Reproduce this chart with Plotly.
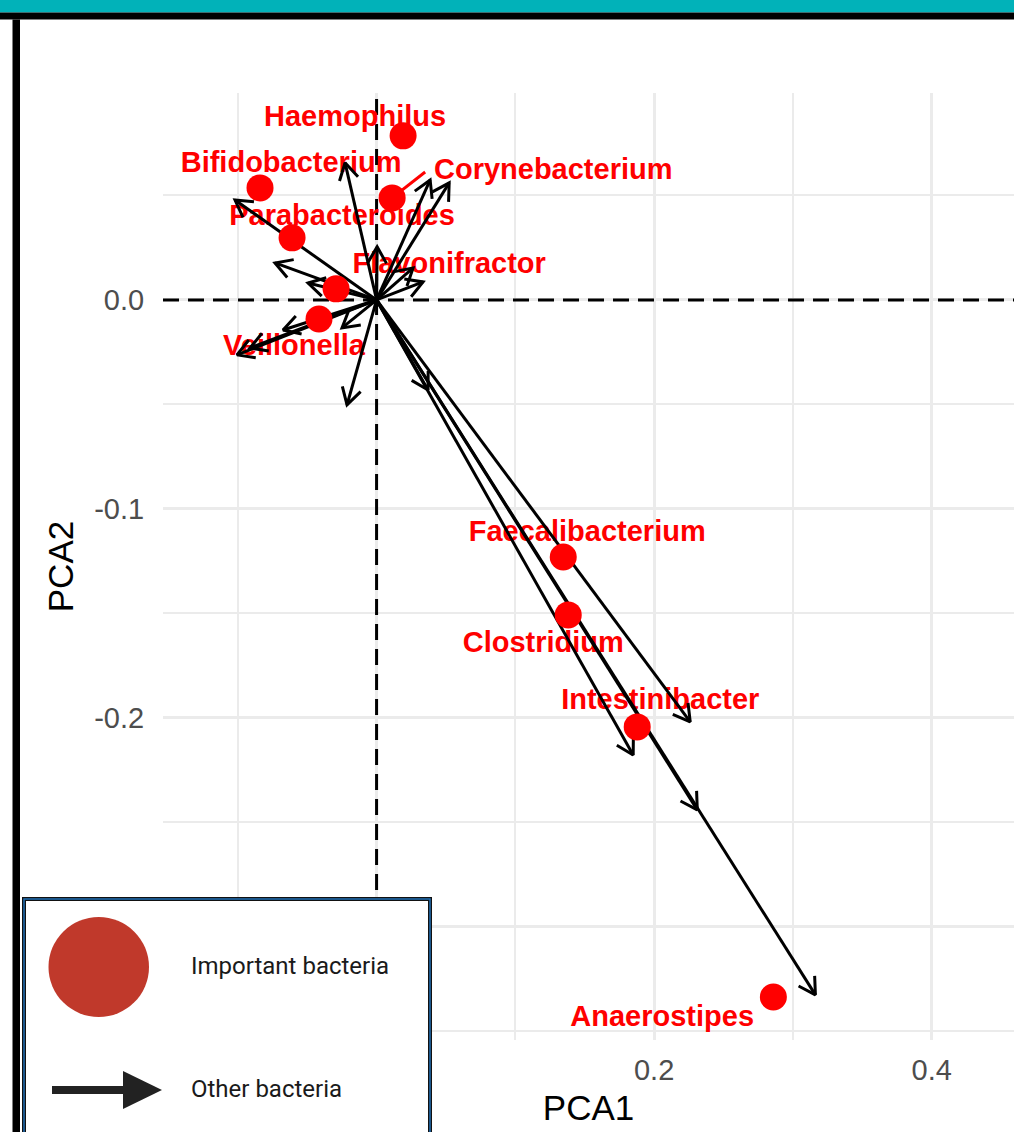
import math
import plotly.graph_objects as go

# ---------------- data ----------------
bacteria = ["Haemophilus", "Bifidobacterium", "Corynebacterium", "Parabacteroides",
            "Flavonifractor", "Veillonella", "Faecalibacterium", "Clostridium",
            "Intestinibacter", "Anaerostipes"]
pca1 = [0.0191, -0.0840, 0.0112, -0.0609, -0.0292, -0.0415, 0.1345, 0.1381, 0.1878, 0.2859]
pca2 = [0.0785, 0.0536, 0.0488, 0.0297, 0.0053, -0.0091, -0.1230, -0.1507, -0.2043, -0.3335]

# repelled label positions (text centres)
label_x = [-0.0155, -0.0616, 0.1273, -0.0249, 0.0523, -0.0595, 0.1518, 0.1201, 0.2044, 0.2058]
label_y = [0.0866, 0.0646, 0.0612, 0.0392, 0.0162, -0.0230, -0.1120, -0.1651, -0.1924, -0.3441]

# connector segment for repelled label
seg_label = ["Corynebacterium"]
seg_end_x = [0.0350]
seg_end_y = [0.0612]

# other bacteria loadings (arrow tips)
arrow_x = [0.3162, 0.2311, 0.2260, 0.1849, 0.0371, -0.0213, -0.0227, 0.0386, 0.0523,
           -0.1020, -0.0732, -0.0494, 0.0004, 0.0335, 0.0263, -0.0674, -0.1006, -0.0912, -0.0249]
arrow_y = [-0.3325, -0.2440, -0.2019, -0.2177, -0.0431, -0.0502, 0.0656, 0.0574, 0.0560,
           0.0478, 0.0177, 0.0081, 0.0254, 0.0086, 0.0153, -0.0144, -0.0263, -0.0230, -0.0134]

x_tick_vals = [0.0, 0.2, 0.4]
x_tick_text = ["0.0", "0.2", "0.4"]
y_tick_vals = [0.0, -0.1, -0.2, -0.3]
y_tick_text = ["0.0", "-0.1", "-0.2", "-0.3"]

legend_labels = ["Important bacteria", "Other bacteria"]

# ---------------- layout geometry ----------------
W, H = 1014, 1132
ML, MR, MT, MB = 163, 0, 93, 92
PW, PH = W - ML - MR, H - MT - MB
X_RANGE = [-0.1539, 0.4593]
Y_RANGE = [-0.3541, 0.0990]
sx = PW / (X_RANGE[1] - X_RANGE[0])
sy = PH / (Y_RANGE[1] - Y_RANGE[0])


def px_x(p):
    return (p - ML) / PW


def px_y(p):
    return 1 - (p - MT) / PH


fig = go.Figure()

# dashed reference lines
fig.add_trace(go.Scatter(x=[X_RANGE[0], X_RANGE[1]], y=[0, 0], mode="lines",
                         line=dict(color="black", width=3, dash="16px,9px"),
                         hoverinfo="skip", showlegend=False, cliponaxis=True))
fig.add_trace(go.Scatter(x=[0, 0], y=[Y_RANGE[0], Y_RANGE[1]], mode="lines",
                         line=dict(color="black", width=3, dash="16px,9px"),
                         hoverinfo="skip", showlegend=False, cliponaxis=True))

# connector segments
for name, ex, ey in zip(seg_label, seg_end_x, seg_end_y):
    i = bacteria.index(name)
    fig.add_trace(go.Scatter(x=[pca1[i], ex], y=[pca2[i], ey], mode="lines",
                             line=dict(color="#FF0000", width=3),
                             hoverinfo="skip", showlegend=False))

# labels
fig.add_trace(go.Scatter(x=label_x, y=label_y, mode="text", text=bacteria,
                         textposition="middle center",
                         textfont=dict(family="Liberation Sans, Arial", size=29,
                                       color="#FF0000", weight="bold"),
                         hoverinfo="skip", showlegend=False, cliponaxis=False))

# arrows
L = 19.0
ang = math.radians(30)
ax_, ay_ = [], []
for tx, ty in zip(arrow_x, arrow_y):
    dpx, dpy = tx * sx, -ty * sy
    n = math.hypot(dpx, dpy)
    bx, by = -dpx / n, -dpy / n
    pts = []
    for s in (1, -1):
        rx = bx * math.cos(s * ang) - by * math.sin(s * ang)
        ry = bx * math.sin(s * ang) + by * math.cos(s * ang)
        pts.append((tx + L * rx / sx, ty - L * ry / sy))
    ax_ += [0, tx, None, pts[0][0], tx, pts[1][0], None]
    ay_ += [0, ty, None, pts[0][1], ty, pts[1][1], None]
fig.add_trace(go.Scatter(x=ax_, y=ay_, mode="lines",
                         line=dict(color="black", width=3),
                         hoverinfo="skip", showlegend=False))

# important bacteria points
fig.add_trace(go.Scatter(x=pca1, y=pca2, mode="markers",
                         marker=dict(color="#FF0000", size=27, line=dict(width=0)),
                         hoverinfo="skip", showlegend=False))

shapes = []
# frame decorations
shapes.append(dict(type="rect", xref="paper", yref="paper", x0=px_x(0), x1=px_x(W),
                   y0=px_y(12.5), y1=px_y(-2), fillcolor="#01B2B9", line=dict(width=0), layer="above"))
shapes.append(dict(type="rect", xref="paper", yref="paper", x0=px_x(0), x1=px_x(W),
                   y0=px_y(19.5), y1=px_y(12.5), fillcolor="black", line=dict(width=0), layer="above"))
shapes.append(dict(type="rect", xref="paper", yref="paper", x0=px_x(12.5), x1=px_x(20),
                   y0=px_y(H + 5), y1=px_y(19.5), fillcolor="black", line=dict(width=0), layer="above"))
# legend box
shapes.append(dict(type="rect", xref="paper", yref="paper", x0=px_x(24), x1=px_x(430),
                   y0=px_y(H + 10), y1=px_y(899), fillcolor="white",
                   line=dict(color="#111111", width=4), layer="above"))
shapes.append(dict(type="rect", xref="paper", yref="paper", x0=px_x(24), x1=px_x(430),
                   y0=px_y(H + 10), y1=px_y(899), fillcolor="rgba(0,0,0,0)",
                   line=dict(color="#1F6FB5", width=1.5), layer="above"))
# legend circle
shapes.append(dict(type="circle", xref="paper", yref="paper", x0=px_x(48.5), x1=px_x(149),
                   y0=px_y(1017), y1=px_y(917), fillcolor="#C0392B", line=dict(width=0), layer="above"))
# legend arrow
shapes.append(dict(type="rect", xref="paper", yref="paper", x0=px_x(52), x1=px_x(126),
                   y0=px_y(1094), y1=px_y(1086), fillcolor="#222222", line=dict(width=0), layer="above"))
shapes.append(dict(type="path", xref="paper", yref="paper",
                   path=f"M {px_x(123)} {px_y(1071)} L {px_x(162)} {px_y(1090)} L {px_x(123)} {px_y(1109)} Z",
                   fillcolor="#222222", line=dict(width=0), layer="above"))

annotations = [
    dict(xref="paper", yref="paper", x=px_x(189), y=px_y(966), text=legend_labels[0],
         showarrow=False, xanchor="left", yanchor="middle",
         font=dict(family="Roboto", size=24, color="#1A1A1A")),
    dict(xref="paper", yref="paper", x=px_x(189), y=px_y(1089), text=legend_labels[1],
         showarrow=False, xanchor="left", yanchor="middle",
         font=dict(family="Roboto", size=24, color="#1A1A1A")),
]

fig.update_layout(
    width=W, height=H,
    margin=dict(l=ML, r=MR, t=MT, b=MB, pad=0),
    paper_bgcolor="white", plot_bgcolor="white",
    showlegend=False,
    shapes=shapes, annotations=annotations,
    xaxis=dict(range=X_RANGE, tickmode="array", tickvals=x_tick_vals, ticktext=x_tick_text,
               showgrid=True, gridcolor="#EBEBEB", gridwidth=2.5,
               minor=dict(tickmode="linear", tick0=0, dtick=0.1, showgrid=True,
                          gridcolor="#EBEBEB", gridwidth=1.8),
               zeroline=False, showline=False,
               ticks="outside", ticklen=4, tickcolor="rgba(0,0,0,0)",
               tickfont=dict(family="Liberation Sans, Arial", size=29, color="#4D4D4D"),
               title=dict(text="PCA1", standoff=10,
                          font=dict(family="Liberation Sans, Arial", size=35, color="black"))),
    yaxis=dict(range=Y_RANGE, tickmode="array", tickvals=y_tick_vals, ticktext=y_tick_text,
               showgrid=True, gridcolor="#EBEBEB", gridwidth=2.5,
               minor=dict(tickmode="linear", tick0=0, dtick=0.05, showgrid=True,
                          gridcolor="#EBEBEB", gridwidth=1.8),
               zeroline=False, showline=False,
               ticks="outside", ticklen=12, tickcolor="rgba(0,0,0,0)",
               tickfont=dict(family="Liberation Sans, Arial", size=29, color="#4D4D4D"),
               title=dict(text="PCA2", standoff=9,
                          font=dict(family="Liberation Sans, Arial", size=35, color="black"))),
)

fig.write_html("out.html")
